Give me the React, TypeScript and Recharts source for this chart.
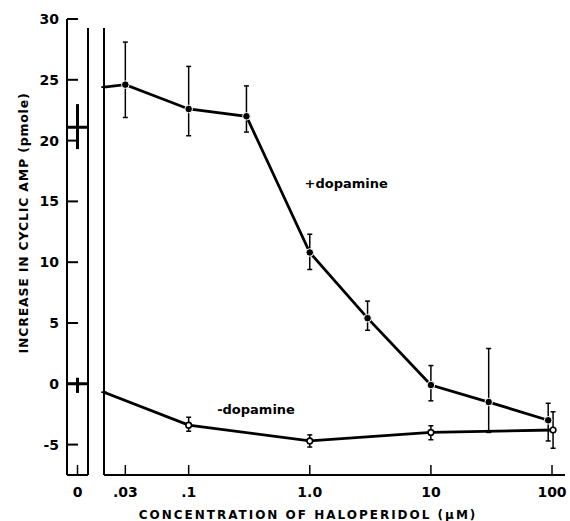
import React from 'react';
import { ComposedChart, Line, XAxis, YAxis, ErrorBar, ReferenceLine, ReferenceDot, Label } from 'recharts';

// axis ticks
const yTicks = [-5, 0, 5, 10, 15, 20, 25, 30];
const xTicks = [0.03, 0.1, 1, 10, 100];
const xTickLabels = ['.03', '.1', '1.0', '10', '100'];

// + dopamine (first entry is where the line leaves the axis break)
const plusConc = [0.02, 0.03, 0.1, 0.3, 1, 3, 10, 30, 93];
const plusMean = [24.4, 24.6, 22.6, 22.0, 10.8, 5.4, -0.1, -1.5, -3.0];
const plusErrLow = [0, 2.7, 2.2, 1.3, 1.4, 1.0, 1.3, 2.5, 1.7];
const plusErrHigh = [0, 3.5, 3.5, 2.5, 1.5, 1.4, 1.6, 4.4, 1.4];

// - dopamine
const minusConc = [0.02, 0.1, 1, 10, 102];
const minusMean = [-0.7, -3.4, -4.7, -4.0, -3.8];
const minusErrLow = [0, 0.5, 0.5, 0.6, 1.5];
const minusErrHigh = [0, 0.65, 0.5, 0.55, 1.5];

// control (no haloperidol), drawn in the "0" panel
const ctrlPos = [0, 0.5, 1];
const plusCtrl = 21.1;
const plusCtrlErr: [number, number] = [1.8, 1.9];
const minusCtrl = 0;
const minusCtrlErr: [number, number] = [0.75, 0.5];

const Y_DOMAIN: [number, number] = [-7.5, 30];
const X_DOMAIN: [number, number] = [0.02, 128];
const PANEL_TOP = 29.25;

const FONT = '"DejaVu Sans", sans-serif';

const plusData = plusConc.map((c, i) => ({ conc: c, mean: plusMean[i], err: [plusErrLow[i], plusErrHigh[i]] }));
const minusData = minusConc.map((c, i) => ({ conc: c, mean: minusMean[i], err: [minusErrLow[i], minusErrHigh[i]] }));
const ctrlData = ctrlPos.map((p) => ({
  pos: p,
  plus: plusCtrl,
  minus: minusCtrl,
  plusErr: p === 0.5 ? plusCtrlErr : [0, 0],
  minusErr: p === 0.5 ? minusCtrlErr : [0, 0],
}));

const YTick = (props: any) => {
  const { x, y, payload } = props;
  return (
    <g>
      <line x1={x} y1={y} x2={x + 11} y2={y} stroke="#000" strokeWidth={2} />
      <text x={x - 8} y={y + 5} textAnchor="end" fontFamily={FONT} fontWeight="bold" fontSize={14} fill="#000">
        {payload.value}
      </text>
    </g>
  );
};

const makeXTick = (fmt: (v: number) => string) => (props: any) => {
  const { x, y, payload } = props;
  return (
    <g>
      <line x1={x} y1={y} x2={x} y2={y - 10} stroke="#000" strokeWidth={1.5} />
      <text x={x} y={y + 22} textAnchor="middle" fontFamily={FONT} fontWeight="bold" fontSize={14} fill="#000">
        {fmt(payload.value)}
      </text>
    </g>
  );
};

const mainTick = makeXTick((v) => xTickLabels[xTicks.indexOf(v)] ?? String(v));
const zeroTick = makeXTick(() => '0');

const solidDot = (p: any) =>
  p.index === 0 ? (
    <g key={'s' + p.index} />
  ) : (
    <circle key={'s' + p.index} cx={p.cx} cy={p.cy} r={3.8} fill="#000" stroke="#fff" strokeWidth={1} />
  );

const openDot = (p: any) =>
  p.index === 0 ? (
    <g key={'o' + p.index} />
  ) : (
    <circle key={'o' + p.index} cx={p.cx} cy={p.cy} r={2.8} fill="#fff" stroke="#000" strokeWidth={1.6} />
  );

const YTitle = () => (
  <text x={23} y={223} transform="rotate(-90 23 223)" textAnchor="middle" dominantBaseline="central"
    fontFamily={FONT} fontWeight="bold" fontSize={12.5} letterSpacing={0.8} fill="#000">
    INCREASE IN CYCLIC AMP (pmole)
  </text>
);

const XTitle = () => (
  <text x={308} y={519} textAnchor="middle" fontFamily={FONT} fontWeight="bold" fontSize={12}
    letterSpacing={2} fill="#000">
    CONCENTRATION OF HALOPERIDOL (µM)
  </text>
);

const noteStyle = { fill: '#000', fontFamily: FONT, fontWeight: 'bold', fontSize: 13 };

export default function App() {
  return (
    <div style={{ position: 'fixed', left: 0, top: 0, width: 570, height: 521, background: '#fff' }}>
      <div style={{ position: 'absolute', left: 0, top: 0 }}>
        <ComposedChart width={92} height={521} data={ctrlData} margin={{ top: 19, right: 4, bottom: 16, left: 0 }}>
          <XAxis dataKey="pos" type="number" domain={[0, 1]} ticks={[0.5]} height={30} tickSize={0} tickMargin={0}
            tickLine={false} tick={zeroTick} axisLine={{ stroke: '#000', strokeWidth: 2 }} />
          <YAxis type="number" domain={Y_DOMAIN} ticks={yTicks} width={67} tickSize={0} tickMargin={0}
            tickLine={false} tick={YTick} axisLine={{ stroke: '#000', strokeWidth: 2 }} allowDataOverflow>
            <Label content={YTitle} />
          </YAxis>
          <ReferenceLine segment={[{ x: 1, y: Y_DOMAIN[0] }, { x: 1, y: PANEL_TOP }]} stroke="#000" strokeWidth={2} />
          <Line dataKey="plus" stroke="#000" strokeWidth={3} dot={false} isAnimationActive={false}>
            <ErrorBar dataKey="plusErr" direction="y" width={0} stroke="#000" strokeWidth={3} />
          </Line>
          <Line dataKey="minus" stroke="#000" strokeWidth={3} dot={false} isAnimationActive={false}>
            <ErrorBar dataKey="minusErr" direction="y" width={0} stroke="#000" strokeWidth={3} />
          </Line>
        </ComposedChart>
      </div>
      <div style={{ position: 'absolute', left: 0, top: 0 }}>
        <ComposedChart width={570} height={521} margin={{ top: 19, right: 5, bottom: 16, left: 104 }}>
          <XAxis dataKey="conc" type="number" scale="log" domain={X_DOMAIN} ticks={xTicks} height={30}
            tickSize={0} tickMargin={0} tickLine={false} tick={mainTick} allowDataOverflow
            axisLine={{ stroke: '#000', strokeWidth: 2 }}>
            <Label content={XTitle} />
          </XAxis>
          <YAxis hide type="number" domain={Y_DOMAIN} allowDataOverflow />
          <ReferenceLine segment={[{ x: X_DOMAIN[0], y: Y_DOMAIN[0] }, { x: X_DOMAIN[0], y: PANEL_TOP }]}
            stroke="#000" strokeWidth={2} />
          <Line data={plusData} dataKey="mean" stroke="#000" strokeWidth={2.8} dot={solidDot} isAnimationActive={false}>
            <ErrorBar dataKey="err" direction="y" width={2.5} stroke="#000" strokeWidth={1.5} />
          </Line>
          <Line data={minusData} dataKey="mean" stroke="#000" strokeWidth={2.8} dot={openDot} isAnimationActive={false}>
            <ErrorBar dataKey="err" direction="y" width={2.5} stroke="#000" strokeWidth={1.5} />
          </Line>
          <ReferenceDot x={2} y={16.5} r={0} fill="none" stroke="none"
            label={{ value: '+dopamine', position: 'center', ...noteStyle }} />
          <ReferenceDot x={0.36} y={-2.1} r={0} fill="none" stroke="none"
            label={{ value: '-dopamine', position: 'center', ...noteStyle }} />
        </ComposedChart>
      </div>
    </div>
  );
}
